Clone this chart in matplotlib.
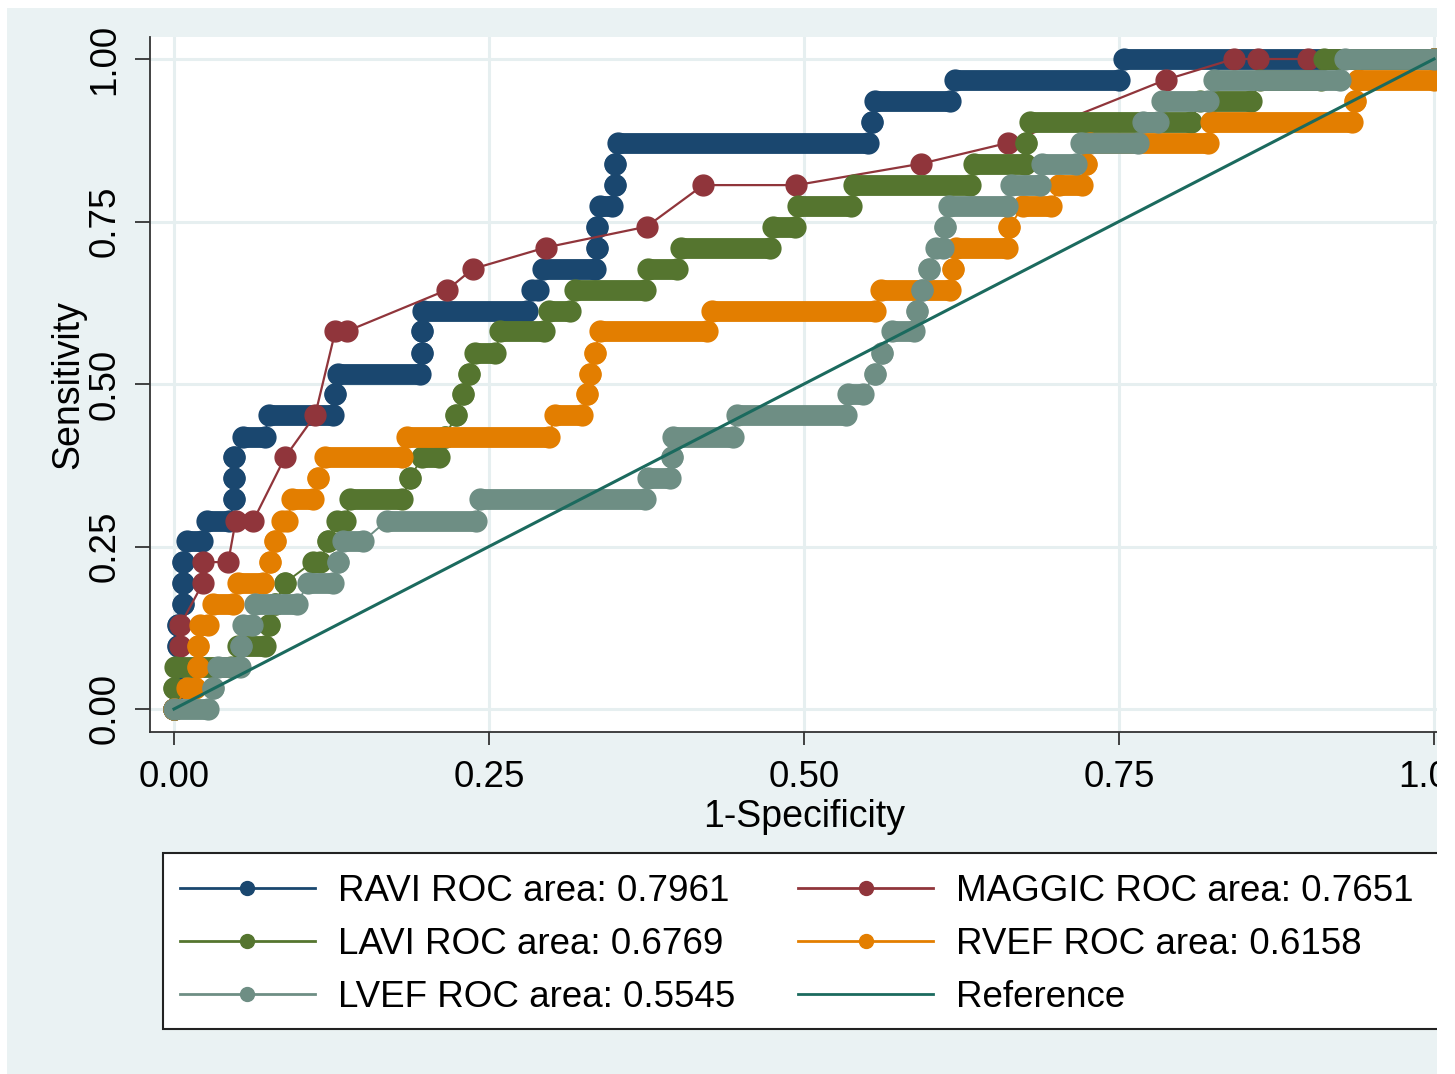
import matplotlib.pyplot as plt
from matplotlib.patches import Rectangle
from matplotlib.lines import Line2D

plt.rcParams['font.family'] = ['Liberation Sans', 'DejaVu Sans']

# sensitivity levels (31 positives -> steps of 1/31)
sens = [0.0, 0.032, 0.065, 0.097, 0.129, 0.161, 0.194, 0.226, 0.258, 0.290,
        0.323, 0.355, 0.387, 0.419, 0.452, 0.484, 0.516, 0.548, 0.581, 0.613,
        0.645, 0.677, 0.710, 0.742, 0.774, 0.806, 0.839, 0.871, 0.903, 0.935,
        0.968, 1.0]

# 1-specificity range covered at each sensitivity level (start, end)
ravi_lo = [0.0, 0.003, 0.003, 0.003, 0.003, 0.007, 0.007, 0.007, 0.010, 0.026,
           0.048, 0.048, 0.048, 0.055, 0.075, 0.128, 0.130, 0.197, 0.197, 0.198,
           0.284, 0.293, 0.336, 0.336, 0.338, 0.350, 0.350, 0.352, 0.554, 0.556,
           0.620, 0.754]
ravi_hi = [0.0, 0.003, 0.003, 0.003, 0.003, 0.007, 0.007, 0.007, 0.022, 0.044,
           0.048, 0.048, 0.048, 0.072, 0.126, 0.128, 0.195, 0.197, 0.197, 0.280,
           0.289, 0.334, 0.336, 0.336, 0.348, 0.350, 0.350, 0.551, 0.554, 0.616,
           0.750, 1.0]

lavi_lo = [0.0, 0.0, 0.001, 0.051, 0.075, 0.080, 0.088, 0.110, 0.122, 0.129,
           0.140, 0.187, 0.197, 0.215, 0.224, 0.229, 0.234, 0.239, 0.259, 0.298,
           0.318, 0.376, 0.402, 0.475, 0.495, 0.540, 0.635, 0.676, 0.679, 0.814,
           0.862, 0.913]
lavi_hi = [0.0, 0.0, 0.045, 0.072, 0.075, 0.080, 0.088, 0.116, 0.122, 0.136,
           0.181, 0.187, 0.210, 0.215, 0.224, 0.229, 0.234, 0.255, 0.294, 0.314,
           0.374, 0.399, 0.473, 0.493, 0.537, 0.632, 0.675, 0.676, 0.807, 0.855,
           0.910, 1.0]

rvef_lo = [0.0, 0.010, 0.019, 0.019, 0.021, 0.031, 0.051, 0.076, 0.080, 0.086,
           0.094, 0.114, 0.120, 0.185, 0.302, 0.328, 0.330, 0.334, 0.338, 0.427,
           0.561, 0.618, 0.621, 0.663, 0.674, 0.702, 0.724, 0.727, 0.823, 0.937,
           0.940, 1.0]
rvef_hi = [0.0, 0.017, 0.019, 0.019, 0.027, 0.047, 0.071, 0.076, 0.080, 0.090,
           0.110, 0.114, 0.181, 0.298, 0.324, 0.328, 0.330, 0.334, 0.423, 0.556,
           0.616, 0.618, 0.661, 0.663, 0.696, 0.721, 0.724, 0.821, 0.935, 0.937,
           1.0, 1.0]

lvef_lo = [0.0, 0.031, 0.035, 0.053, 0.055, 0.064, 0.106, 0.130, 0.134, 0.169,
           0.243, 0.376, 0.395, 0.396, 0.447, 0.535, 0.556, 0.562, 0.570, 0.590,
           0.594, 0.599, 0.605, 0.612, 0.615, 0.664, 0.689, 0.720, 0.769, 0.784,
           0.825, 0.929]
lvef_hi = [0.027, 0.031, 0.052, 0.053, 0.062, 0.098, 0.126, 0.130, 0.150, 0.240,
           0.374, 0.394, 0.395, 0.444, 0.533, 0.547, 0.556, 0.562, 0.587, 0.590,
           0.594, 0.599, 0.610, 0.612, 0.661, 0.687, 0.716, 0.765, 0.781, 0.821,
           0.925, 1.0]

# MAGGIC score has few distinct cut-offs
maggic_fpr = [0.0, 0.005, 0.005, 0.023, 0.023, 0.043, 0.049, 0.063, 0.088,
              0.112, 0.128, 0.137, 0.217, 0.237, 0.295, 0.375, 0.420, 0.494,
              0.593, 0.662, 0.787, 0.841, 0.860, 0.900, 1.0]
maggic_sens = [0.0, 0.097, 0.129, 0.194, 0.226, 0.226, 0.290, 0.290, 0.387,
               0.452, 0.581, 0.581, 0.645, 0.677, 0.710, 0.742, 0.806, 0.806,
               0.839, 0.871, 0.968, 1.0, 1.0, 1.0, 1.0]

labels = {
    'RAVI': 'RAVI ROC area: 0.7961',
    'MAGGIC': 'MAGGIC ROC area: 0.7651',
    'LAVI': 'LAVI ROC area: 0.6769',
    'RVEF': 'RVEF ROC area: 0.6158',
    'LVEF': 'LVEF ROC area: 0.5545',
    'Reference': 'Reference',
}
colors = {
    'RAVI': '#1A476F',
    'MAGGIC': '#90353B',
    'LAVI': '#55752F',
    'RVEF': '#E37E00',
    'LVEF': '#6E8E84',
    'Reference': '#1B6A5E',
}

W, H = 1455, 1074
fs = 26.5
ms = 15

fig = plt.figure(figsize=(W / 100, H / 100), dpi=100, facecolor='white')
fig.patches.append(Rectangle((7 / W, 0), (1437 - 7) / W, (H - 8) / H,
                             transform=fig.transFigure, facecolor='#EAF2F3',
                             edgecolor='none', zorder=-10))

ax = fig.add_axes([150 / W, (H - 732) / H, (1437 - 150) / W, (732 - 37) / H])
ax.set_facecolor('white')


def step_curve(lo, hi, color, z):
    xs, ys = [], []
    for s, a, b in zip(sens, lo, hi):
        xs += [a, b]
        ys += [s, s]
    ax.plot(xs, ys, color=color, lw=1.4, zorder=z)
    ax.plot(xs, ys, ls='none', marker='o', ms=ms, color=color, zorder=z)
    for s, a, b in zip(sens, lo, hi):
        if b > a:
            ax.plot([a, b], [s, s], color=color, lw=ms,
                    solid_capstyle='round', zorder=z)


# Stata draws in this order, later curves on top
step_curve(ravi_lo, ravi_hi, colors['RAVI'], 3)
ax.plot(maggic_fpr, maggic_sens, color=colors['MAGGIC'], lw=1.6,
        marker='o', ms=ms, zorder=4)
step_curve(lavi_lo, lavi_hi, colors['LAVI'], 5)
step_curve(rvef_lo, rvef_hi, colors['RVEF'], 6)
step_curve(lvef_lo, lvef_hi, colors['LVEF'], 7)
ax.plot([0, 1], [0, 1], color=colors['Reference'], lw=2.2, zorder=8)

ax.set_xlim(-24 / 1260, 1 + 3 / 1260)
ax.set_ylim(-23 / 650, 1 + 22 / 650)
ticks = [0, 0.25, 0.5, 0.75, 1.0]
ax.set_xticks(ticks)
ax.set_yticks(ticks)
ax.set_xticklabels(['%.2f' % t for t in ticks])
ax.set_yticklabels(['%.2f' % t for t in ticks])
ax.grid(True, color='#E6EFF0', lw=2.2)
ax.set_axisbelow(True)

for side in ['top', 'right']:
    ax.spines[side].set_visible(False)
for side in ['left', 'bottom']:
    ax.spines[side].set_color('#333333')
    ax.spines[side].set_linewidth(1.3)

ax.tick_params(axis='x', length=9.5, width=1.3, color='#333333', pad=11,
               labelsize=fs)
ax.tick_params(axis='y', length=11, width=1.3, color='#333333', pad=9,
               labelsize=fs, labelrotation=90)
for lab in ax.get_yticklabels():
    lab.set_verticalalignment('center')

ax.set_xlabel('1-Specificity', fontsize=fs + 0.5, va='center')
ax.xaxis.set_label_coords((804 - 150) / 1287, (732 - 817) / 695)
ax.set_ylabel('Sensitivity', fontsize=fs + 0.5, va='center')
ax.yaxis.set_label_coords((68 - 150) / 1287, (732 - 385) / 695)

# legend box (Stata style, runs off the right edge)
fig.patches.append(Rectangle((163 / W, 1 - 1029 / H), (1600 - 163) / W,
                             (1029 - 853) / H, transform=fig.transFigure,
                             facecolor='white', edgecolor='#222222', lw=1.5,
                             zorder=1))

order = ['RAVI', 'LAVI', 'LVEF', 'MAGGIC', 'RVEF', 'Reference']
handles = []
for key in order:
    if key == 'Reference':
        handles.append(Line2D([], [], color=colors[key], lw=2))
    else:
        handles.append(Line2D([], [], color=colors[key], lw=2, marker='o',
                              ms=10))
fig.legend(handles, [labels[k] for k in order], loc='upper left',
           bbox_to_anchor=(180 / W, 1 - 874 / H), ncol=2, frameon=False,
           fontsize=fs, handlelength=3.66, handletextpad=0.62,
           columnspacing=1.73, labelspacing=0.49, borderpad=0,
           borderaxespad=0, numpoints=1)

# the exported picture is cut off on the right
fig.patches.append(Rectangle((1437 / W, 0), (W - 1437) / W, 1,
                             transform=fig.transFigure, facecolor='white',
                             edgecolor='none', zorder=100))

fig.savefig('out.png', dpi=100, facecolor='white')
